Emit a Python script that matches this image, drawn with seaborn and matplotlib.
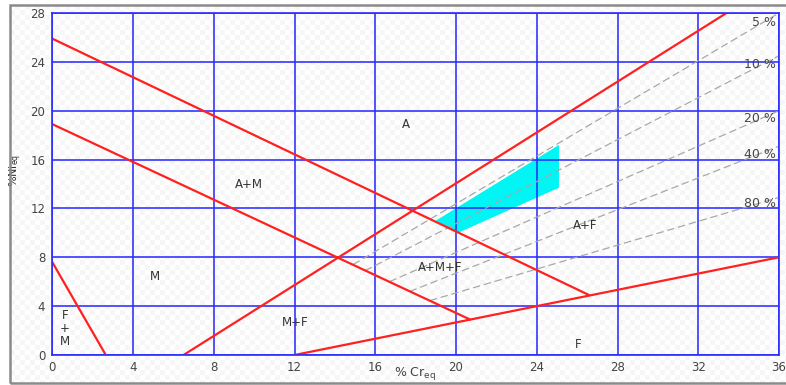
import numpy as np
import matplotlib
matplotlib.use("Agg")
import matplotlib.pyplot as plt
from matplotlib.patches import Rectangle
import seaborn as sns

# Phase boundaries of the constitution diagram (start/end points, % Cr_eq vs % Ni_eq)
boundary_x = [[0.0, 26.6], [0.0, 20.7], [0.0, 2.65], [6.5, 33.4], [12.0, 36.0]]
boundary_y = [[25.9, 4.9], [18.9, 2.9], [7.6, 0.0], [0.0, 28.0], [0.0, 8.0]]

# Iso-ferrite lines
ferrite_labels = ["5 %", "10 %", "20 %", "40 %", "80 %"]
ferrite_x0 = [14.9, 15.5, 16.7, 17.7, 18.7]
ferrite_y0 = [7.4, 6.9, 6.0, 5.2, 4.45]
ferrite_x1 = [36.0, 36.0, 36.0, 36.0, 36.0]
ferrite_y1 = [28.0, 24.5, 20.0, 17.1, 12.9]
ferrite_label_y = [27.2, 23.8, 19.4, 16.45, 12.4]

# Highlighted composition window
window_x = [19.0, 25.1, 25.1, 20.1]
window_y = [11.0, 17.2, 13.7, 10.0]

# Phase field names
region_names = ["A", "A+M", "M", "F\n+\nM", "M+F", "A+M+F", "A+F", "F"]
region_x = [17.5, 9.72, 5.09, 0.63, 12.02, 19.2, 26.4, 26.05]
region_y = [18.84, 13.98, 6.41, 2.2, 2.65, 7.15, 10.57, 0.9]

x_ticks = list(range(0, 37, 4))
y_ticks = list(range(0, 29, 4))

sns.set_theme(style="white")
plt.rcParams["font.family"] = ["DejaVu Sans"]

W, H = 786, 385
fig = plt.figure(figsize=(W / 100, H / 100), dpi=100)
fig.patch.set_facecolor("white")

# light checkered backdrop inside the outer frame
fx0, fy_top, fy_bot = 10, 5, 383
ch_h, ch_w = fy_bot - fy_top, W - fx0
yy, xx = np.mgrid[0:ch_h, 0:ch_w]
cell = ((xx // 5 + yy // 5) % 2).astype(float)
shade = 1.0 - 0.035 * cell
checker = np.dstack([shade, shade, shade])
fig.figimage(checker, xo=fx0, yo=H - fy_bot, origin="upper", zorder=-5)

ax = fig.add_axes([52.3 / W, (H - 355) / H, (779 - 52.3) / W, (355 - 13) / H])
ax.patch.set_alpha(0)

blue = "#2b2bff"
ax.set_xlim(0, 36)
ax.set_ylim(0, 28)
ax.set_xticks(x_ticks)
ax.set_yticks(y_ticks)
ax.set_axisbelow(True)
ax.grid(True, color=blue, linewidth=1.2, alpha=0.95)
for sp in ax.spines.values():
    sp.set_color(blue)
    sp.set_linewidth(1.2)
ax.tick_params(length=0, labelsize=8.5, labelcolor="#444444")
ax.tick_params(axis="x", pad=4)
ax.tick_params(axis="y", pad=5)

# composition window
ax.fill(window_x, window_y, color="#00f5f5", zorder=0.2, linewidth=0)

# iso-ferrite lines
for x0, y0, x1, y1 in zip(ferrite_x0, ferrite_y0, ferrite_x1, ferrite_y1):
    sns.lineplot(x=[x0, x1], y=[y0, y1], ax=ax, color="#a8a8a8",
                 linewidth=0.9, sort=False, estimator=None,
                 zorder=1).lines[-1].set_dashes((6, 3))

for lab, ly in zip(ferrite_labels, ferrite_label_y):
    ax.text(35.85, ly, lab, ha="right", va="center", fontsize=9,
            color="#444444", zorder=3)

# phase boundaries
for bx, by in zip(boundary_x, boundary_y):
    sns.lineplot(x=bx, y=by, ax=ax, color="#ff2020", linewidth=1.6,
                 sort=False, estimator=None, zorder=2)

for name, rx, ry in zip(region_names, region_x, region_y):
    ax.text(rx, ry, name, ha="center", va="center", fontsize=8.5,
            color="#333333", linespacing=1.0, zorder=3)

ax.set_xlabel("")
ax.set_ylabel("")
fig.text(415 / W, 1 - 373 / H, r"% Cr$_{\rm eq}$", ha="center", va="center",
         fontsize=9, color="#444444")
fig.text(16 / W, 1 - 170 / H, r"%Ni$_{\rm eq}$", ha="center", va="center",
         rotation=90, fontsize=8, color="#333333")

# outer frame
fig.patches.append(Rectangle((fx0 / W, (H - fy_bot) / H), (W + 10 - fx0) / W,
                             (fy_bot - fy_top) / H, transform=fig.transFigure,
                             fill=False, edgecolor="#8a8a8a", linewidth=1.8,
                             zorder=5))

fig.savefig("out.png", dpi=100)
